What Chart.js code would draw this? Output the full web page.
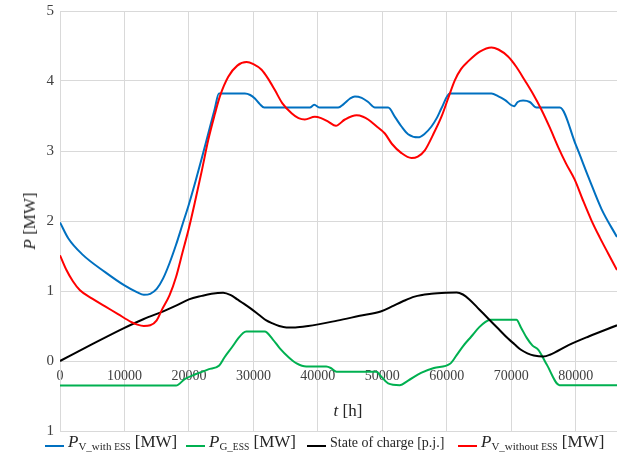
<!DOCTYPE html>
<html>
<head>
<meta charset="utf-8">
<script src="https://cdn.jsdelivr.net/npm/chart.js@4"></script>
<style>
  html, body { margin: 0; padding: 0; background: #fff; }
  #wrap { position: relative; width: 626px; height: 456px; font-family: "Liberation Serif", "DejaVu Serif", serif; color: #262626; }
  canvas { position: absolute; left: 0; top: 0; }
  .ov { position: absolute; white-space: nowrap; }
  .ytitle { left: 30px; top: 221px; transform: translate(-50%, -50%) rotate(-90deg); font-size: 17px; }
  .xtitle { left: 348px; top: 411px; transform: translate(-50%, -50%); font-size: 17px; }
  .leg { top: 432px; height: 20px; line-height: 20px; font-size: 17px; }
  .leg .ln { display: inline-block; width: 19px; height: 2px; vertical-align: middle; margin-right: 4px; position: relative; top: 3px; }
  .leg sub { font-size: 11px; vertical-align: -3px; line-height: 0; }
  .leg sub small { font-size: 9.5px; }
  .leg .soc { font-size: 14px; }
</style>
</head>
<body>
<div id="wrap">
  <canvas id="c" width="626" height="456" style="width:626px;height:456px"></canvas>
  <div class="ov ytitle"><i>P</i> [MW]</div>
  <div class="ov xtitle"><i>t</i> [h]</div>
  <div class="ov leg" style="left:45px"><span class="ln" style="background:#0070C0"></span><i>P</i><sub>V_with <small>ESS</small></sub> [MW]</div>
  <div class="ov leg" style="left:186px"><span class="ln" style="background:#00B050"></span><i>P</i><sub>G_<small>ESS</small></sub> [MW]</div>
  <div class="ov leg" style="left:307px"><span class="ln" style="background:#000000"></span><span class="soc">State of charge [p.j.]</span></div>
  <div class="ov leg" style="left:458px"><span class="ln" style="background:#FF0000"></span><i>P</i><sub>V_without <small>ESS</small></sub> [MW]</div>
</div>
<script>
// ---- data (t in time units, values in MW / p.u.) ----
const xTicks = [0, 10000, 20000, 30000, 40000, 50000, 60000, 70000, 80000];
const yTicks = [-1, 0, 1, 2, 3, 4, 5];

const blueT = [0,1300,3500,7000,10000,12000,13000,14000,15000,16000,17000,18000,19000,20000,21000,22000,23000,24000,24650,28680,29500,30230,31000,31680,38760,39430,40300,43150,44000,45000,45740,46800,47800,48840,50900,52000,52970,54000,55550,56500,57620,58500,59170,60470,66930,68000,68990,70440,71000,71830,72870,73900,77520,80000,82000,84000,86400];
const blueV = [1.98,1.75,1.52,1.27,1.08,0.98,0.945,0.96,1.03,1.18,1.40,1.66,1.95,2.24,2.56,2.90,3.25,3.60,3.82,3.82,3.80,3.75,3.67,3.62,3.62,3.66,3.62,3.62,3.67,3.75,3.78,3.76,3.70,3.62,3.62,3.48,3.35,3.24,3.195,3.24,3.35,3.48,3.61,3.82,3.82,3.78,3.73,3.64,3.70,3.72,3.70,3.62,3.62,3.09,2.62,2.17,1.77];

const greenT = [0,18000,19400,21000,23000,24700,25500,26700,27700,28400,28900,31750,33000,34100,35500,36700,38200,41300,42000,42900,49100,49800,50900,52700,54000,56000,58000,60500,61500,62500,63800,65000,66000,66800,70800,71500,72400,73300,74200,75500,77500,86400];
const greenV = [-0.35,-0.35,-0.255,-0.19,-0.12,-0.065,0.05,0.20,0.33,0.40,0.42,0.42,0.31,0.18,0.05,-0.035,-0.08,-0.08,-0.10,-0.155,-0.155,-0.22,-0.32,-0.345,-0.28,-0.17,-0.10,-0.04,0.08,0.21,0.35,0.48,0.56,0.59,0.59,0.48,0.33,0.22,0.16,-0.05,-0.345,-0.345];

const socT = [0,5000,9840,13000,16020,18000,20000,22000,23500,25300,26500,27500,28500,29500,31000,32000,32880,34000,35120,36500,38500,43000,46500,49740,51500,53110,55000,57600,60000,61540,62500,63500,65000,66600,68000,69500,70500,71500,72500,73500,75000,76000,78960,82000,86400];
const socV = [0,0.24,0.466,0.60,0.71,0.79,0.88,0.93,0.96,0.975,0.94,0.88,0.82,0.755,0.65,0.58,0.54,0.50,0.48,0.48,0.50,0.577,0.645,0.707,0.78,0.85,0.92,0.96,0.976,0.98,0.95,0.88,0.74,0.59,0.46,0.32,0.24,0.16,0.11,0.08,0.065,0.09,0.23,0.35,0.51];

const redT = [0,1000,2000,3100,5000,7000,9000,11000,12000,13000,14000,15000,15800,17000,18000,19000,20000,21000,22000,23000,24000,24800,26100,27500,28940,30000,31270,32300,33330,34500,35920,37000,37980,39530,40500,41600,42800,44190,46000,47000,47800,49000,50390,51500,52970,54520,55500,56590,57800,59170,60200,61240,62200,63300,65120,66930,68000,69500,70800,72090,73400,74680,76000,77260,78500,79840,81100,82430,83700,85010,86400];
const redV = [1.51,1.30,1.14,1.01,0.89,0.78,0.67,0.56,0.52,0.50,0.51,0.58,0.73,0.94,1.20,1.55,1.90,2.30,2.72,3.16,3.52,3.78,4.06,4.22,4.27,4.24,4.16,4.03,3.87,3.68,3.54,3.47,3.45,3.49,3.47,3.42,3.36,3.45,3.51,3.49,3.45,3.36,3.25,3.10,2.97,2.90,2.92,3.01,3.22,3.49,3.75,4.01,4.17,4.28,4.42,4.48,4.45,4.35,4.20,4.01,3.81,3.59,3.33,3.06,2.82,2.59,2.30,2.01,1.77,1.54,1.30];

const seriesNames = ['P V_with ESS [MW]', 'P G_ESS [MW]', 'State of charge [p.j.]', 'P V_without ESS [MW]'];

function pts(ts, vs) { return ts.map((t, i) => ({ x: t, y: vs[i] })); }

const mk = (label, ts, vs, color, order) => ({
  label, data: pts(ts, vs), borderColor: color, backgroundColor: color,
  borderWidth: 2, pointRadius: 0, fill: false, cubicInterpolationMode: 'monotone', order
});

const tickFont = { family: 'Liberation Serif', size: 15 };

new Chart(document.getElementById('c'), {
  type: 'line',
  data: {
    datasets: [
      mk(seriesNames[0], blueT, blueV, '#0070C0', 4),
      mk(seriesNames[1], greenT, greenV, '#00B050', 3),
      mk(seriesNames[2], socT, socV, '#000000', 2),
      mk(seriesNames[3], redT, redV, '#FF0000', 1)
    ]
  },
  options: {
    responsive: false,
    animation: false,
    layout: { padding: { left: 0, right: 9, top: 11, bottom: 25 } },
    plugins: { legend: { display: false }, tooltip: { enabled: false } },
    scales: {
      x: {
        type: 'linear', min: 0, max: 86400, position: { y: 0 },
        afterBuildTicks: s => { s.ticks = xTicks.map(v => ({ value: v })); },
        ticks: { autoSkip: false, maxRotation: 0,
                 font: { family: 'Liberation Serif', size: 14 }, color: '#404040', padding: 7,
                 callback: v => String(v) },
        grid: { color: '#d9d9d9', drawTicks: false },
        border: { display: false }
      },
      y: {
        min: -1, max: 5,
        afterBuildTicks: s => { s.ticks = yTicks.map(v => ({ value: v })); },
        afterFit: s => { s.width = 60; s.paddingTop = 0; s.paddingBottom = 0; },
        ticks: { font: tickFont, color: '#404040', padding: 6, callback: v => String(Math.abs(v)) },
        grid: { color: '#d9d9d9', drawTicks: false },
        border: { color: '#d9d9d9' }
      }
    }
  }
});
</script>
</body>
</html>
